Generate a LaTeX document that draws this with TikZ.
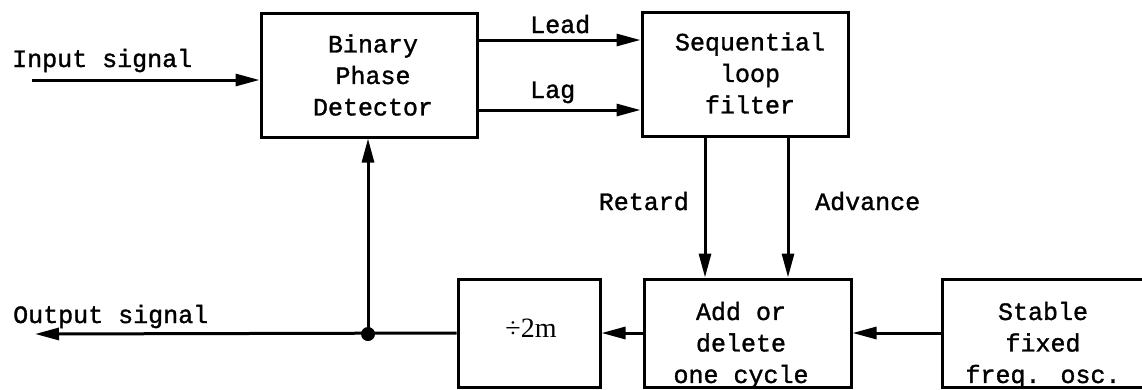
\documentclass[tikz,border=0pt]{standalone}
\usepackage{fontspec}
\newfontfamily\tw[BoldFont=Liberation Mono, BoldFeatures={FakeBold=1.3}]{Liberation Mono}
\newfontfamily\sr{Liberation Serif}
\usetikzlibrary{arrows.meta}
\begin{document}
\begin{tikzpicture}[x=1pt,y=-1pt,
  blk/.style={draw, line width=3pt, inner sep=0pt, minimum height=108pt},
  tblk/.style={blk, minimum height=124pt},
  txt/.style={font=\tw\bfseries\fontsize{25}{31.5}\selectfont, inner sep=0pt, align=center},
  sig/.style={line width=3pt, -{Triangle[length=24pt,width=12pt]}}]
\clip (0,0) rectangle (1142,389);

% blocks
\node[tblk, minimum width=216pt] (bpd) at (369,75) {};
\node[tblk, minimum width=206pt] (slf) at (745,74) {};
\node[blk, minimum width=142pt] (div) at (529,333) {};
\node[blk, minimum width=207pt] (add) at (747.5,333) {};
\node[blk, minimum width=208pt] (osc) at (1046,333) {};

% block texts
\node[txt] (bpdt) at (373,75) {Binary\\Phase\\Detector};
\node[txt] (slft) at (750,73) {Sequential\\loop\\filter};
\node[txt] (addt) at (741,345) {Add or\\delete\\one cycle};
\node[txt] (osct) at (1043,345) {Stable\\fixed\\freq. osc.};
\node[inner sep=0pt, font=\sr\fontsize{28}{30}\selectfont] (divt) at (531,328) {÷2m};

% signal labels
\node[txt, anchor=base west] (inl) at (12,67) {Input signal};
\node[txt, anchor=base west] (outl) at (13,323) {Output signal};
\node[txt, anchor=base west] (leadl) at (530,33) {Lead};
\node[txt, anchor=base west] (lagl) at (530,98) {Lag};
\node[txt, anchor=base east] (retl) at (689,210) {Retard};
\node[txt, anchor=base west] (advl) at (815,210) {Advance};

% connectors
\coordinate (in) at (32,80);
\coordinate (out) at (35,334);
\coordinate (jn) at (368,334);
\coordinate (ld) at (477,40);
\coordinate (lg) at (477,110);
\coordinate (rt) at (705,136);
\coordinate (av) at (788,136);

\draw[sig] (in) -- (in -| bpd.west);
\draw[sig] (ld) -- (ld -| slf.west);
\draw[sig] (lg) -- (lg -| slf.west);
\draw[sig] (rt) -- (rt |- add.north);
\draw[sig] (av) -- (av |- add.north);
\draw[sig] (osc.west) -- (add.east);
\draw[sig] (add.west) -- (div.west -| div.east);
\draw[sig] (div.west) -- (out);
\draw[sig] (jn) -- (jn |- bpd.south);
\fill (jn) circle (7pt);
\end{tikzpicture}
\end{document}
